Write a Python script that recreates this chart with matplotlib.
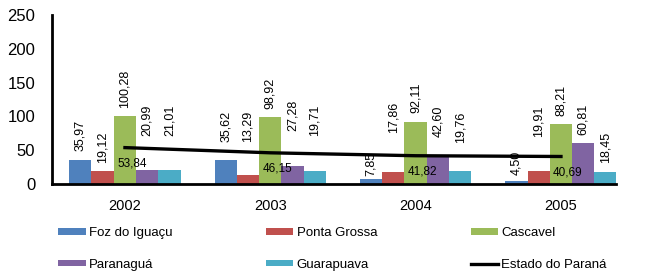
import matplotlib
matplotlib.use("Agg")
import matplotlib.pyplot as plt
import numpy as np

plt.rcParams['font.family'] = ['Liberation Sans', 'DejaVu Sans']

years = ['2002', '2003', '2004', '2005']
foz = [35.97, 35.62, 7.85, 4.50]
ponta_grossa = [19.12, 13.29, 17.86, 19.91]
cascavel = [100.28, 98.92, 92.11, 88.21]
paranagua = [20.99, 27.28, 42.60, 60.81]
guarapuava = [21.01, 19.71, 19.76, 18.45]
estado = [53.84, 46.15, 41.82, 40.69]

series_names = ['Foz do Iguaçu', 'Ponta Grossa', 'Cascavel', 'Paranaguá', 'Guarapuava']
series_vals = [foz, ponta_grossa, cascavel, paranagua, guarapuava]
colors = ['#4F81BD', '#C0504D', '#9BBB59', '#8064A2', '#4BACC6']

# extra lift (points) of value labels, as placed in the original
label_lift = [
    [0, 0, 0, 18, 18],
    [7, 18, 0, 19, 19],
    [-4, 22, 0, 7, 14],
    [-2, 18, 0, 0, 0],
]

def fmt(v):
    return f"{v:.2f}".replace('.', ',')

fig = plt.figure(figsize=(6.5, 2.75), dpi=100)
ax = fig.add_axes([0.08, 0.331, 0.868, 0.614])

x = np.arange(len(years))
w = 0.1535
handles = []
for k, (name, vals, c) in enumerate(zip(series_names, series_vals, colors)):
    pos = x + (k - 2) * w
    b = ax.bar(pos, vals, width=w, color=c, label=name, zorder=2)
    handles.append(b)
    for i, (p, v) in enumerate(zip(pos, vals)):
        ax.annotate(fmt(v), (p, v), xytext=(0, 6 + label_lift[i][k]),
                    textcoords='offset points', rotation=90,
                    ha='center', va='bottom', fontsize=9, zorder=3)

ln, = ax.plot(x, estado, color='black', lw=2.4, label='Estado do Paraná', zorder=4)
for xi, v in zip(x, estado):
    ax.annotate(fmt(v), (xi, v), xytext=(5, -7), textcoords='offset points',
                ha='center', va='top', fontsize=8.5, zorder=5)

ax.set_xlim(-0.502, 3.38)
ax.set_ylim(0, 250)
ax.set_yticks([0, 50, 100, 150, 200, 250])
ax.tick_params(axis='y', length=0, labelsize=12, pad=12)
ax.set_xticks(x)
ax.set_xticklabels(years)
ax.tick_params(axis='x', length=0, labelsize=10.5, pad=11)
for s in ['top', 'right']:
    ax.spines[s].set_visible(False)
ax.spines['left'].set_linewidth(2)
ax.spines['bottom'].set_linewidth(2)

order = [handles[0], handles[3], handles[1], handles[4], handles[2], ln]
labels = [h.get_label() for h in order]
fig.legend(order, labels, ncol=3, loc='upper left', bbox_to_anchor=(0.089, 0.173),
           frameon=False, fontsize=9.5, handlelength=2.1, handleheight=0.38,
           handletextpad=0.23, columnspacing=7.1, labelspacing=1.45,
           borderpad=0, borderaxespad=0)

fig.savefig('out.png', dpi=100)
